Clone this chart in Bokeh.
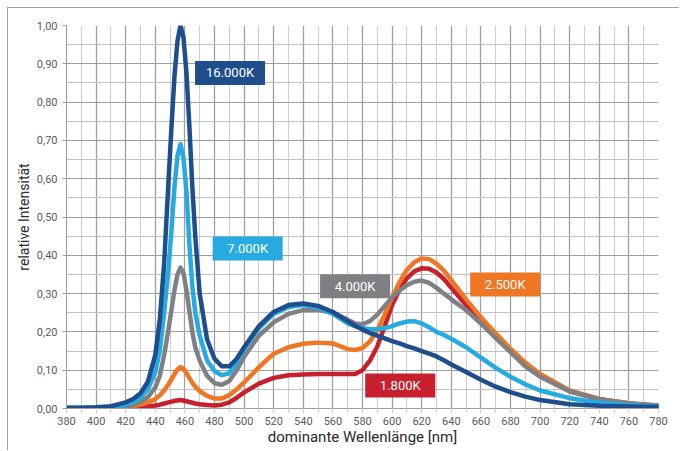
from bokeh.plotting import figure
from bokeh.models import SingleIntervalTicker, CustomJSTickFormatter, ColumnDataSource
from bokeh.core.properties import value
from bokeh.embed import file_html
from bokeh.resources import INLINE

wavelength = [380, 390, 400, 410, 420, 425, 430, 435,
              440, 443, 446, 449, 451, 453, 455, 457, 459, 461, 463, 465, 467,
              470, 475, 480, 485, 490, 495, 500,
              510, 520, 530, 540, 550, 560,
              570, 575, 580, 585, 590, 595, 600, 605, 610, 615, 620, 625, 630, 635, 640,
              650, 660, 670, 680, 690, 700,
              720, 740, 760, 780]

k16000 = [0.002, 0.002, 0.003, 0.006, 0.016, 0.025, 0.04, 0.07,
          0.14, 0.23, 0.38, 0.6, 0.74, 0.87, 0.96, 1.0, 0.97, 0.88, 0.74, 0.58, 0.45,
          0.3, 0.18, 0.13, 0.11, 0.11, 0.13, 0.16,
          0.215, 0.252, 0.27, 0.274, 0.268, 0.252,
          0.228, 0.216, 0.206, 0.197, 0.19, 0.183, 0.176, 0.17, 0.163, 0.157, 0.15, 0.143, 0.136, 0.126, 0.115,
          0.095, 0.075, 0.057, 0.043, 0.031, 0.022,
          0.011, 0.007, 0.005, 0.004]
k7000 = [0.001, 0.001, 0.002, 0.004, 0.01, 0.016, 0.028, 0.05,
         0.095, 0.15, 0.25, 0.37, 0.47, 0.58, 0.66, 0.69, 0.655, 0.57, 0.43, 0.32, 0.25,
         0.19, 0.125, 0.098, 0.087, 0.092, 0.12, 0.155,
         0.21, 0.247, 0.265, 0.27, 0.263, 0.247,
         0.222, 0.215, 0.21, 0.207, 0.207, 0.21, 0.215, 0.222, 0.227, 0.228, 0.222, 0.212, 0.2, 0.192, 0.182,
         0.16, 0.133, 0.106, 0.083, 0.063, 0.047,
         0.027, 0.015, 0.009, 0.006]
k4000 = [0.001, 0.001, 0.001, 0.002, 0.005, 0.01, 0.017, 0.03,
         0.055, 0.085, 0.14, 0.21, 0.26, 0.31, 0.35, 0.368, 0.355, 0.31, 0.255, 0.2, 0.16,
         0.125, 0.085, 0.066, 0.062, 0.072, 0.1, 0.135,
         0.19, 0.225, 0.247, 0.257, 0.258, 0.25,
         0.232, 0.222, 0.22, 0.228, 0.245, 0.268, 0.29, 0.308, 0.322, 0.331, 0.334, 0.328, 0.315, 0.3, 0.285,
         0.257, 0.222, 0.184, 0.147, 0.11, 0.083,
         0.045, 0.024, 0.013, 0.007]
k2500 = [0.0, 0.0, 0.001, 0.002, 0.004, 0.006, 0.01, 0.016,
         0.025, 0.034, 0.047, 0.064, 0.077, 0.09, 0.102, 0.108, 0.104, 0.093, 0.08, 0.067, 0.057,
         0.045, 0.033, 0.026, 0.026, 0.035, 0.05, 0.068,
         0.108, 0.143, 0.16, 0.169, 0.172, 0.17,
         0.155, 0.153, 0.158, 0.175, 0.205, 0.245, 0.29, 0.33, 0.362, 0.382, 0.392, 0.39, 0.378, 0.36, 0.335,
         0.285, 0.238, 0.196, 0.156, 0.12, 0.09,
         0.047, 0.025, 0.014, 0.008]
k1800 = [0.0, 0.0, 0.0, 0.001, 0.002, 0.003, 0.004, 0.006,
         0.008, 0.01, 0.013, 0.016, 0.018, 0.02, 0.021, 0.022, 0.021, 0.019, 0.017, 0.015, 0.013,
         0.011, 0.009, 0.008, 0.01, 0.016, 0.028, 0.042,
         0.065, 0.08, 0.087, 0.089, 0.09, 0.09,
         0.09, 0.09, 0.1, 0.125, 0.162, 0.215, 0.27, 0.31, 0.34, 0.358, 0.366, 0.365, 0.355, 0.338, 0.315,
         0.27, 0.228, 0.19, 0.15, 0.114, 0.085,
         0.045, 0.024, 0.013, 0.007]

series_names = ["1.800K", "2.500K", "4.000K", "7.000K", "16.000K"]
series_values = [k1800, k2500, k4000, k7000, k16000]
series_colors = ["#c7202c", "#ef7622", "#7f8083", "#27aae1", "#1f4e8c"]

label_x = [605.5, 676.4, 575.0, 502.4, 490.5]
label_y = [0.060, 0.324, 0.319, 0.418, 0.876]

FONT = "Roboto"

p = figure(width=672, height=443, x_range=(380, 780), y_range=(0, 1.0),
           output_backend="svg", toolbar_location=None,
           min_border_left=58, min_border_right=22, min_border_top=17, min_border_bottom=43)
p.styles = {"margin-left": "7px", "margin-top": "7px",
            "border-top": "1px solid #a0a0a0", "border-left": "1px solid #a0a0a0"}
p.outline_line_color = None
p.background_fill_color = "white"

xt = SingleIntervalTicker(interval=20, num_minor_ticks=2)
yt = SingleIntervalTicker(interval=0.1, num_minor_ticks=2)
p.xaxis.ticker = xt
p.yaxis.ticker = yt
p.xgrid.ticker = xt
p.ygrid.ticker = yt
p.xgrid.grid_line_color = "#9e9e9e"
p.xgrid.minor_grid_line_color = "#cfcfcf"
p.ygrid.grid_line_color = "#9e9e9e"
p.ygrid.minor_grid_line_color = "#c2c2c2"
for g in (p.xgrid, p.ygrid):
    g.grid_line_width = 1.2
    g.minor_grid_line_width = 1.2

p.yaxis.formatter = CustomJSTickFormatter(code="return tick.toFixed(2).replace('.', ',');")

for ax in (p.xaxis, p.yaxis):
    ax.axis_line_color = "#9e9e9e"
    ax.major_tick_line_color = "#9e9e9e"
    ax.minor_tick_line_color = "#cfcfcf"
    ax.major_tick_in = 0
    ax.major_tick_out = 4
    ax.minor_tick_in = 0
    ax.major_label_text_font = FONT
    ax.major_label_text_font_size = "11px"
    ax.major_label_text_color = "#5a5a5a"
    ax.axis_label_text_font = FONT
    ax.axis_label_text_font_style = "normal"
    ax.axis_label_text_color = "#2a2a2a"

p.xaxis.minor_tick_out = 4
p.yaxis.minor_tick_out = 0
p.xaxis.major_label_standoff = 4
p.yaxis.major_label_standoff = 5
p.xaxis.axis_label = "dominante Wellenlänge [nm]"
p.yaxis.axis_label = "relative Intensität"
p.xaxis.axis_label_text_font_size = "15px"
p.yaxis.axis_label_text_font_size = "14px"
p.xaxis.axis_label_standoff = 0
p.yaxis.axis_label_standoff = 2

for vals, col in zip(series_values, series_colors):
    p.line(wavelength, vals, line_color=col, line_width=4.5, line_join="round", line_cap="round")

src = ColumnDataSource(dict(x=label_x, y=label_y, text=series_names, color=series_colors))
p.rect(x="x", y="y", width=70, height=24, width_units="screen", height_units="screen",
       fill_color="color", line_color=None, source=src)
p.text(x="x", y="y", text="text", text_color="white", text_font=value(FONT),
       text_font_size="13px", text_align="center", text_baseline="middle", source=src)

open("out.html", "w").write(file_html(p, INLINE))
